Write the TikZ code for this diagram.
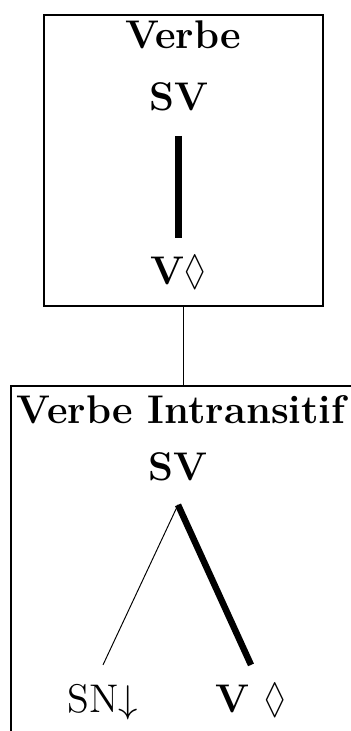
\documentclass[tikz,border=0pt]{standalone}
\usepackage{amssymb}
\usetikzlibrary{positioning}
\newcommand{\pxu}{0.31pt}
\newcommand{\losange}{\scalebox{0.8}[1.05]{$\lozenge$}}

\begin{document}
\begin{tikzpicture}[x=\pxu, y=-\pxu, font=\fontsize{12.4}{15}\selectfont,
    cadre/.style={draw, line width=0.5pt, inner sep=0pt, anchor=north west},
    titre/.style={font=\fontsize{12.4}{15}\selectfont\bfseries, anchor=base},
    noeud/.style={anchor=base, inner xsep=2pt, inner ysep=6pt, text height=8.4pt, text depth=1.5pt},
    tronc/.style={line width=2pt},
    branche/.style={line width=0.3pt}]
    \useasboundingbox (0,0) rectangle (351,731);
    \clip (0,0) rectangle (351,731);

    \node[cadre, minimum width=279*\pxu, minimum height=291*\pxu] (cadreVerbe) at (43,14) {};
    \node[cadre, minimum width=345*\pxu, minimum height=380*\pxu] (cadreIntrans) at (10,385) {};
    \draw[line width=0.5pt] (cadreVerbe.south) -- (cadreIntrans.north);

    % arbre du verbe
    \node[titre] (titreVerbe) at (183,49) {Verbe};
    \node[noeud] (svA) at (178.5,111) {\bfseries SV};
    \node[noeud] (vA) at (178.5,285) {\bfseries V\losange};
    \draw[tronc] (svA.south) -- (vA.north);

    % arbre du verbe intransitif
    \node[titre] (titreIntrans) at (181,423) {Verbe Intransitif};
    \node[noeud] (svB) at (178,480) {\bfseries SV};
    \node[noeud] (snB) at (103,712) {SN$\downarrow$};
    \node[noeud] (vB) at (251,712) {\bfseries V \losange};
    \draw[branche] (svB.south) -- (snB.north);
    \draw[tronc] (svB.south) -- (vB.north);
\end{tikzpicture}
\end{document}
